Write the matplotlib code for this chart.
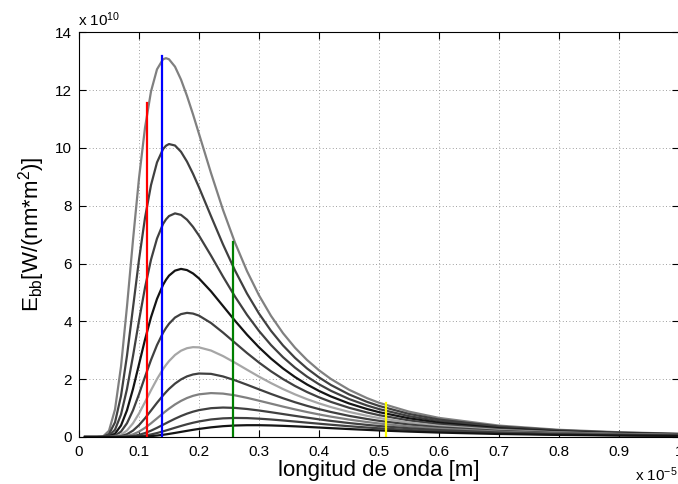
import numpy as np
import matplotlib
matplotlib.use('Agg')
import matplotlib.pyplot as plt

plt.rcParams['font.family'] = ['Liberation Sans', 'DejaVu Sans']
plt.rcParams['mathtext.fontset'] = 'custom'
plt.rcParams['mathtext.rm'] = 'Liberation Sans'
plt.rcParams['mathtext.it'] = 'Liberation Sans:italic'

# longitud de onda (x 1e-5 m)
lam = [0.01, 0.03, 0.04, 0.05, 0.06, 0.07, 0.08, 0.09, 0.10, 0.11, 0.12, 0.13, 0.14, 0.145, 0.15,
       0.16, 0.17, 0.18, 0.19, 0.20, 0.22, 0.24, 0.26, 0.28, 0.30, 0.32, 0.34, 0.36, 0.38, 0.40,
       0.42, 0.45, 0.48, 0.50, 0.55, 0.60, 0.70, 0.80, 0.90, 1.00]

# Ebb (x 1e10) para cada temperatura
e2000 = [0, 0, 0.018, 0.215, 0.951, 2.439, 4.520, 6.814, 8.952, 10.698, 11.954, 12.719, 13.067, 13.105, 13.067,
         12.811, 12.365, 11.799, 11.163, 10.487, 9.131, 7.857, 6.723, 5.739, 4.901, 4.191, 3.592, 3.089, 2.665, 2.308,
         2.005, 1.635, 1.345, 1.185, 0.877, 0.661, 0.395, 0.249, 0.165, 0.113]
e1900 = [0, 0, 0.007, 0.101, 0.506, 1.420, 2.815, 4.472, 6.130, 7.581, 8.714, 9.499, 9.957, 10.077, 10.134,
         10.084, 9.867, 9.527, 9.106, 8.637, 7.640, 6.662, 5.761, 4.962, 4.269, 3.674, 3.168, 2.738, 2.372, 2.062,
         1.798, 1.474, 1.216, 1.075, 0.799, 0.605, 0.363, 0.231, 0.153, 0.105]
e1800 = [0, 0, 0.002, 0.044, 0.251, 0.779, 1.663, 2.802, 4.024, 5.169, 6.134, 6.864, 7.367, 7.528, 7.643,
         7.736, 7.684, 7.518, 7.270, 6.967, 6.275, 5.550, 4.858, 4.227, 3.668, 3.181, 2.760, 2.399, 2.089, 1.824,
         1.597, 1.315, 1.090, 0.966, 0.722, 0.549, 0.332, 0.212, 0.141, 0.097]
e1700 = [0, 0, 0, 0.017, 0.115, 0.398, 0.925, 1.662, 2.513, 3.369, 4.143, 4.777, 5.260, 5.438, 5.581,
         5.755, 5.815, 5.774, 5.658, 5.486, 5.040, 4.532, 4.022, 3.540, 3.102, 2.713, 2.372, 2.074, 1.817, 1.594,
         1.402, 1.161, 0.968, 0.860, 0.647, 0.494, 0.302, 0.193, 0.129, 0.090]
e1600 = [0, 0, 0, 0.006, 0.047, 0.187, 0.477, 0.923, 1.481, 2.083, 2.665, 3.180, 3.602, 3.772, 3.917,
         4.132, 4.251, 4.294, 4.270, 4.198, 3.944, 3.613, 3.258, 2.905, 2.575, 2.273, 2.004, 1.765, 1.556, 1.373,
         1.214, 1.012, 0.848, 0.756, 0.573, 0.441, 0.271, 0.175, 0.118, 0.082]
e1500 = [0, 0, 0, 0, 0.018, 0.079, 0.226, 0.474, 0.813, 1.208, 1.617, 2.004, 2.346, 2.493, 2.624,
         2.837, 2.985, 3.072, 3.108, 3.101, 2.991, 2.800, 2.570, 2.327, 2.088, 1.865, 1.659, 1.474, 1.309, 1.163,
         1.034, 0.869, 0.733, 0.656, 0.501, 0.388, 0.241, 0.157, 0.106, 0.074]
e1400 = [0, 0, 0, 0, 0.006, 0.030, 0.096, 0.222, 0.410, 0.648, 0.914, 1.183, 1.437, 1.553, 1.662,
         1.847, 1.992, 2.097, 2.163, 2.196, 2.184, 2.095, 1.962, 1.808, 1.648, 1.490, 1.341, 1.203, 1.078, 0.965,
         0.864, 0.732, 0.623, 0.560, 0.432, 0.337, 0.212, 0.139, 0.095, 0.066]
e1300 = [0, 0, 0, 0, 0, 0.010, 0.036, 0.092, 0.186, 0.316, 0.473, 0.644, 0.817, 0.900, 0.980,
         1.126, 1.249, 1.349, 1.424, 1.476, 1.519, 1.501, 1.441, 1.355, 1.256, 1.154, 1.052, 0.955, 0.864, 0.780,
         0.704, 0.603, 0.518, 0.468, 0.365, 0.288, 0.184, 0.122, 0.083, 0.059]
e1200 = [0, 0, 0, 0, 0, 0.003, 0.011, 0.033, 0.074, 0.137, 0.219, 0.317, 0.423, 0.476, 0.530,
         0.632, 0.726, 0.808, 0.876, 0.930, 0.997, 1.019, 1.006, 0.969, 0.917, 0.857, 0.794, 0.731, 0.670, 0.611,
         0.557, 0.483, 0.419, 0.381, 0.302, 0.240, 0.156, 0.105, 0.072, 0.051]
e1100 = [0, 0, 0, 0, 0, 0, 0.003, 0.010, 0.025, 0.051, 0.088, 0.137, 0.194, 0.225, 0.256,
         0.320, 0.382, 0.441, 0.493, 0.538, 0.607, 0.645, 0.659, 0.654, 0.634, 0.606, 0.572, 0.535, 0.497, 0.460,
         0.424, 0.373, 0.328, 0.301, 0.242, 0.195, 0.129, 0.088, 0.062, 0.044]
e1000 = [0, 0, 0, 0, 0, 0, 0.001, 0.002, 0.007, 0.015, 0.030, 0.050, 0.076, 0.091, 0.107,
         0.141, 0.177, 0.213, 0.248, 0.280, 0.334, 0.374, 0.398, 0.408, 0.408, 0.400, 0.386, 0.369, 0.349, 0.328,
         0.306, 0.275, 0.246, 0.227, 0.187, 0.153, 0.104, 0.072, 0.051, 0.037]

curvas = [e2000, e1900, e1800, e1700, e1600, e1500, e1400, e1300, e1200, e1100, e1000]
grises = ['#808080', '#404040', '#404040', '#141414', '#404040', '#a6a6a6',
          '#404040', '#808080', '#404040', '#404040', '#141414']

# lineas verticales: posicion y altura
vx = [0.114, 0.139, 0.257, 0.512]
vtop = [11.57, 13.18, 6.76, 1.19]
vcol = ['#ff0000', '#0000ff', '#008000', '#ffff00']

fig = plt.figure(figsize=(6.78, 4.84), dpi=100)
ax = fig.add_axes([79/678, 47/484, 600/678, 404.7/484])

for e, c in zip(curvas, grises):
    ax.plot(lam, e, color=c, lw=1.6)
for x, t, c in zip(vx, vtop, vcol):
    ax.plot([x, x], [0, t], color=c, lw=1.6)

ax.set_xlim(0, 1)
ax.set_ylim(0, 14)
ax.set_xticks(np.arange(0, 1.01, 0.1))
ax.set_xticklabels(['0', '0.1', '0.2', '0.3', '0.4', '0.5', '0.6', '0.7', '0.8', '0.9', '1'])
ax.set_yticks(np.arange(0, 15, 2))
ax.tick_params(direction='in', top=True, right=True, length=5, width=0.8, labelsize=11)
ax.tick_params(axis='x', pad=6)
ax.tick_params(axis='y', pad=5)
ax.grid(True, linestyle=(0, (1, 3)), color='#808080', lw=0.6)
for s in ax.spines.values():
    s.set_linewidth(0.8)

ax.set_xlabel('longitud de onda [m]', fontsize=16, labelpad=0.5)
ax.set_ylabel(r'E$_{\mathrm{bb}}$[W/(nm*m$^2$)]', fontsize=16, labelpad=6)

fig.text(78/678, 1 - 26/484, r'x 10$^{10}$', fontsize=11, ha='left', va='baseline')
fig.text(635/678, 1 - 481/484, r'x 10$^{-5}$', fontsize=11, ha='left', va='baseline')

fig.savefig('out.png', dpi=100)
